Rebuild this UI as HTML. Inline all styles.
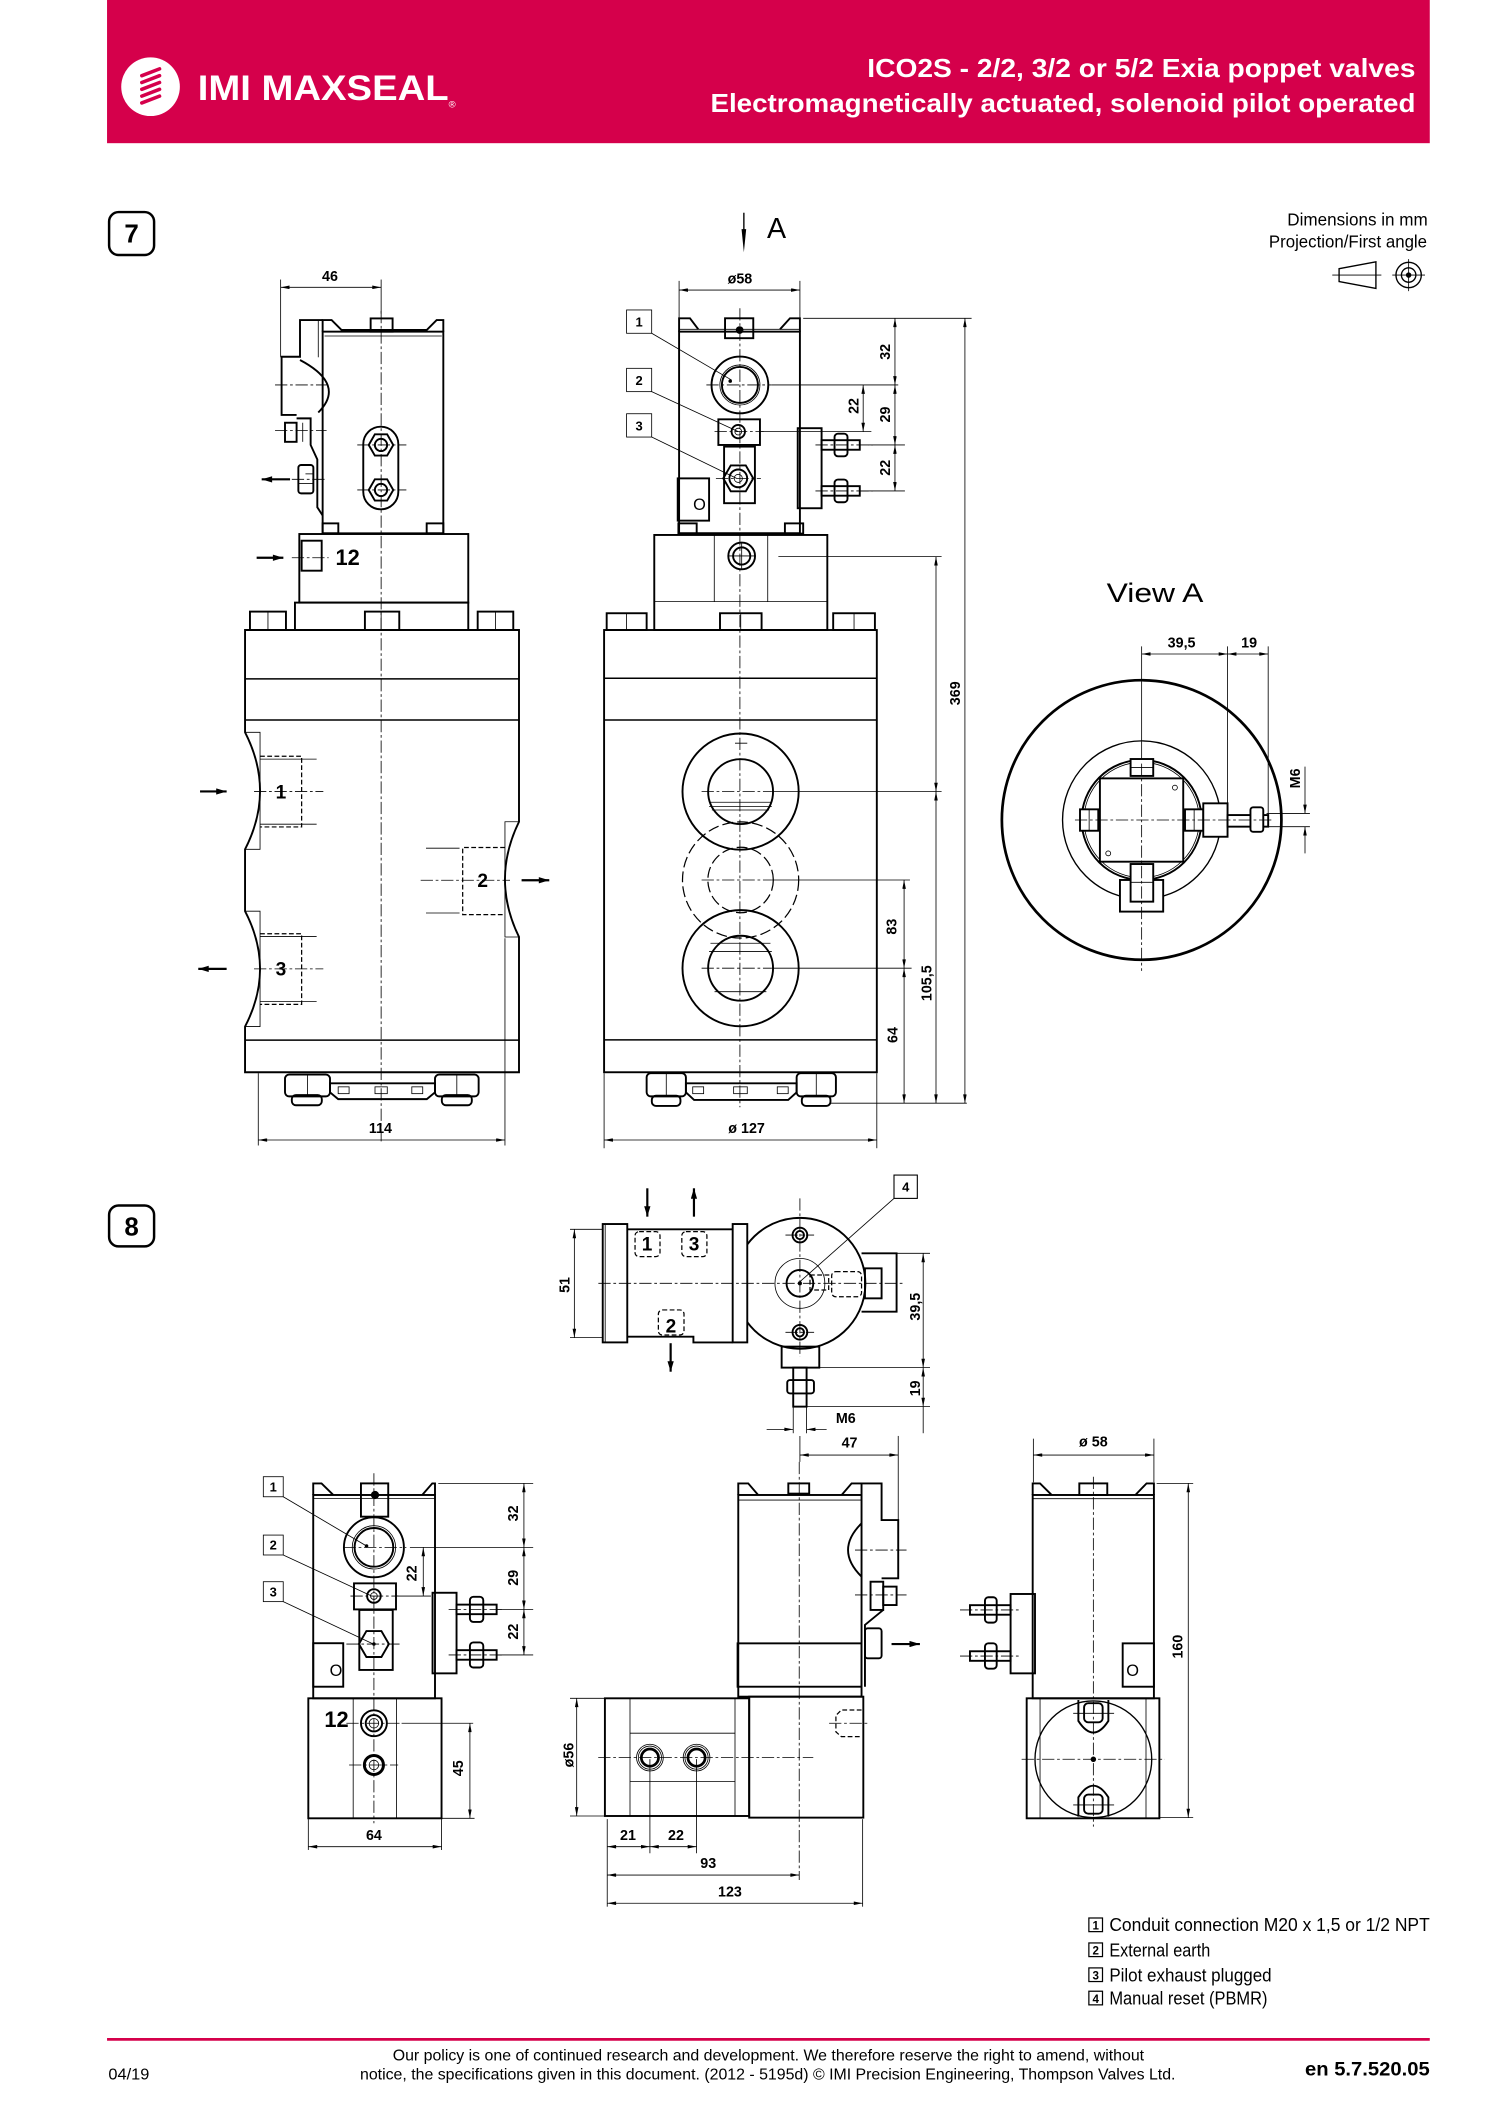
<!DOCTYPE html>
<html><head><meta charset="utf-8"><title>ICO2S</title>
<style>
html,body{margin:0;padding:0;background:#fff;width:1500px;height:2122px;overflow:hidden}
svg{display:block}
text{font-family:"Liberation Sans",Arial,sans-serif;fill:#000}
.k{fill:none;stroke:#000;stroke-width:1.4}
.m{fill:none;stroke:#000;stroke-width:1}
.n{fill:none;stroke:#000;stroke-width:0.6}
.c{fill:none;stroke:#000;stroke-width:0.6;stroke-dasharray:9 2 2 2}
.h{fill:none;stroke:#000;stroke-width:0.9;stroke-dasharray:3.5 1.8}
.d{fill:none;stroke:#000;stroke-width:0.6;marker-start:url(#a);marker-end:url(#a)}
.e{fill:none;stroke:#000;stroke-width:0.6;marker-end:url(#a)}
.fa{fill:none;stroke:#000;stroke-width:1.6;marker-end:url(#f)}
.t{font-size:10.5px;font-weight:bold}
.b{font-size:9.5px;font-weight:bold}
.p{font-size:14px;font-weight:bold}
</style></head><body>
<svg width="1500" height="2122" viewBox="0 0 1100 1556.1" preserveAspectRatio="none" xmlns="http://www.w3.org/2000/svg">
<defs>
<marker id="a" viewBox="0 0 10 4" refX="10" refY="2" markerWidth="7" markerHeight="2.6" markerUnits="userSpaceOnUse" orient="auto-start-reverse"><path d="M0,0L10,2L0,4z" fill="#000"/></marker>
<marker id="f" viewBox="0 0 10 6" refX="10" refY="3" markerWidth="8" markerHeight="4.6" markerUnits="userSpaceOnUse" orient="auto"><path d="M0,0L10,3L0,6z" fill="#000"/></marker>
</defs>

<!-- HEADER -->
<rect x="78.5" y="0" width="970" height="105" fill="#d5004b"/>
<circle cx="110.4" cy="63.6" r="21.5" fill="#fff"/>
<g stroke="#d5004b" stroke-width="2.6" stroke-linecap="round" fill="none">
<path d="M104,55.5L117,50.5"/><path d="M104,60.5L117,55.5"/><path d="M104,65.5L117,60.5"/><path d="M104,70.5L117,65.5"/><path d="M104,75.5L117,70.5"/>
</g>
<text x="145" y="73.3" font-size="25.5" font-weight="bold" style="fill:#fff" textLength="184" lengthAdjust="spacingAndGlyphs">IMI MAXSEAL</text>
<text x="329" y="79" font-size="7" style="fill:#fff">®</text>
<text x="636" y="56.5" font-size="19" font-weight="bold" style="fill:#fff" textLength="402" lengthAdjust="spacingAndGlyphs">ICO2S - 2/2, 3/2 or 5/2 Exia poppet valves</text>
<text x="521" y="82.3" font-size="19" font-weight="bold" style="fill:#fff" textLength="517" lengthAdjust="spacingAndGlyphs">Electromagnetically actuated, solenoid pilot operated</text>

<!-- fig labels -->
<rect x="80" y="155.5" width="33" height="31.5" rx="7" fill="none" stroke="#000" stroke-width="1.8"/>
<text x="96.5" y="178" font-size="19" font-weight="bold" text-anchor="middle">7</text>
<rect x="80" y="884" width="33" height="30" rx="7" fill="none" stroke="#000" stroke-width="1.8"/>
<text x="96.5" y="906" font-size="19" font-weight="bold" text-anchor="middle">8</text>

<!-- View arrow A -->
<line x1="545.5" y1="156" x2="545.5" y2="172" stroke="#000" stroke-width="1"/>
<path d="M543.8,168L545.5,185L547.2,168z" fill="#000"/>
<text x="562.5" y="174.5" font-size="21">A</text>

<text x="944" y="165.5" font-size="13" textLength="103" lengthAdjust="spacingAndGlyphs">Dimensions in mm</text>
<text x="930.5" y="181.5" font-size="13" textLength="116" lengthAdjust="spacingAndGlyphs">Projection/First angle</text>
<path class="m" d="M982,197L1009,192V211.5L982,206.5Z"/>
<line class="n" x1="977" y1="201.7" x2="1013" y2="201.7"/>
<circle class="m" cx="1033" cy="201.7" r="9.3"/><circle class="m" cx="1033" cy="201.7" r="5.3"/><circle cx="1033" cy="201.7" r="2" fill="#000"/>
<line class="n" x1="1021" y1="201.7" x2="1045" y2="201.7"/><line class="n" x1="1033" y1="190" x2="1033" y2="213.5"/>

<!-- ================= FIG 7 LEFT VIEW ================= -->
<line class="c" x1="279.5" y1="228" x2="279.5" y2="838"/>
<line class="n" x1="205.8" y1="205" x2="205.8" y2="262"/>
<line class="n" x1="279.5" y1="205" x2="279.5" y2="230"/>
<line class="d" x1="205.8" y1="210.7" x2="279.5" y2="210.7"/>
<text class="t" x="242" y="206" text-anchor="middle">46</text>
<g class="k">
<rect x="236.6" y="243.2" width="88.5" height="147.9"/>
<path d="M236.6,243.2V234.7H243.2L250.5,242H312.9L320.2,234.7H325.1V243.2"/>
<rect x="271.8" y="233.5" width="16.1" height="9.7"/>
<path d="M236.6,234.7H220V261.6H206.5V304.3H217.5"/>
<path d="M220,264Q254,282 233.4,302.5"/>
<rect x="209" y="310" width="8.5" height="14"/>
<path d="M217.5,306.8H227.8V326.3L232.7,336.9V372L236.6,378"/>
<rect x="218.8" y="341" width="11" height="20.8" rx="2"/>
<rect x="266.4" y="312.9" width="25.7" height="60.6" rx="12.8"/>
<polygon points="270.4,326.3 274.9,318.5 283.9,318.5 288.4,326.3 283.9,334.1 274.9,334.1"/>
<polygon points="270.4,359.3 274.9,351.5 283.9,351.5 288.4,359.3 283.9,367.1 274.9,367.1"/>
<circle cx="279.4" cy="326.3" r="4.5"/><circle cx="279.4" cy="359.3" r="4.5"/>
<rect x="236.6" y="383.8" width="11.5" height="7.3"/><rect x="312.9" y="383.8" width="12.2" height="7.3"/>
<rect x="219.5" y="391.6" width="123.9" height="50.3"/>
<rect x="221.2" y="396.5" width="14.7" height="22"/>
<rect x="216.3" y="441.9" width="127.1" height="20.1"/>
<rect x="183.3" y="448.5" width="26.4" height="13.5"/><rect x="267.6" y="448.5" width="25.2" height="13.5"/><rect x="350.3" y="448.5" width="26.1" height="13.5"/>
<path d="M179.7,462H380.6V602.6Q360,644.8 380.6,687.1V786.3H179.7V752.8Q201.7,710.5 179.7,668.2V622.8Q201.7,580 179.7,537Z"/>
</g>
<g class="n">
<line x1="233.4" y1="234.7" x2="233.4" y2="262"/>
<line x1="222" y1="310" x2="222" y2="324"/>
<line x1="224" y1="347.5" x2="230" y2="347.5"/><line x1="218.8" y1="354.5" x2="229.8" y2="354.5"/>
<line x1="279.5" y1="448.5" x2="279.5" y2="462"/><line x1="196.5" y1="448.5" x2="196.5" y2="462"/><line x1="363.4" y1="448.5" x2="363.4" y2="462"/>
<line x1="238" y1="246.4" x2="324" y2="246.4"/>
<path d="M179.7,537H190.7V622.8H179.7M179.7,668.2H190.7V752.8H179.7M380.6,602.6H370.3V687.1H380.6"/>
<path d="M179.7,497.8H380.6M179.7,528H380.6M179.7,762.7H380.6" stroke-width="1.1"/>
<line x1="190.7" y1="556.7" x2="232.2" y2="556.7"/><line x1="190.7" y1="604.4" x2="232.2" y2="604.4"/>
<line x1="190.7" y1="686.8" x2="232.2" y2="686.8"/><line x1="190.7" y1="734.5" x2="232.2" y2="734.5"/>
<line x1="312.4" y1="622" x2="337" y2="622"/><line x1="312.4" y1="669.5" x2="337" y2="669.5"/>
</g>
<g class="h">
<path d="M190.7,554.6H221.2V606.4H190.7"/>
<path d="M190.7,684.7H221.2V736.5H190.7"/>
<path d="M370.3,621.5H339.3V670.7H370.3"/>
</g>
<g class="c">
<line x1="201.7" y1="282.3" x2="239.5" y2="282.3"/><line x1="201.7" y1="315.8" x2="239.5" y2="315.8"/><line x1="214" y1="351.5" x2="239" y2="351.5"/>
<line x1="262" y1="326.3" x2="298" y2="326.3"/><line x1="262" y1="359.3" x2="298" y2="359.3"/>
<line x1="214" y1="409" x2="241" y2="409"/>
<line x1="186.3" y1="580.4" x2="237.1" y2="580.4"/><line x1="186.3" y1="710.5" x2="237.1" y2="710.5"/><line x1="308.5" y1="645.5" x2="374" y2="645.5"/>
</g>
<line class="fa" x1="212.7" y1="351.5" x2="191.9" y2="351.5"/>
<line class="fa" x1="188.2" y1="409" x2="207.8" y2="409"/>
<line class="fa" x1="146.7" y1="580.4" x2="166.2" y2="580.4"/>
<line class="fa" x1="166.2" y1="710.5" x2="145.4" y2="710.5"/>
<line class="fa" x1="382.5" y1="645.5" x2="402.8" y2="645.5"/>
<text x="246" y="414.5" font-size="16" font-weight="bold">12</text>
<text class="p" x="206" y="585.5" text-anchor="middle">1</text>
<text class="p" x="206" y="715.5" text-anchor="middle">3</text>
<text class="p" x="354" y="650.5" text-anchor="middle">2</text>
<g class="k">
<rect x="209" y="788" width="33" height="16" rx="3"/><rect x="214" y="803" width="22" height="7.5" rx="3"/>
<rect x="319" y="788" width="32" height="16" rx="3"/><rect x="324" y="803" width="22" height="7.5" rx="3"/>
<path d="M242,794.4H319V801L313,806H248L242,801Z"/>
</g>
<g class="n"><line x1="225.5" y1="788" x2="225.5" y2="804"/><line x1="335" y1="788" x2="335" y2="804"/>
<rect x="248" y="797" width="8" height="5"/><rect x="275" y="797" width="9" height="5"/><rect x="302" y="797" width="8" height="5"/></g>
<line class="n" x1="189.4" y1="787" x2="189.4" y2="840"/>
<line class="n" x1="370.3" y1="688" x2="370.3" y2="840"/>
<line class="d" x1="189.4" y1="836" x2="370.3" y2="836"/>
<text class="t" x="279" y="831" text-anchor="middle">114</text>

<!-- ================= FIG 7 MIDDLE VIEW ================= -->
<line class="c" x1="542.6" y1="226" x2="542.6" y2="812"/>
<line class="n" x1="498" y1="206" x2="498" y2="233"/><line class="n" x1="586.6" y1="206" x2="586.6" y2="233"/>
<line class="d" x1="498" y1="212.7" x2="586.6" y2="212.7"/>
<text class="t" x="542.6" y="208" text-anchor="middle">ø58</text>
<g class="k">
<rect x="498" y="243.2" width="88.6" height="147.8"/>
<path d="M498,243.2V233.4H506L512.1,241.5M572,241.5L579.3,233.4H586.6V243.2"/>
<rect x="531.7" y="233.4" width="20.7" height="14.6"/>
<circle cx="542.6" cy="282.3" r="20.8"/><circle cx="542.6" cy="282.3" r="13.2"/>
<rect x="526.8" y="307.5" width="30.5" height="18.8"/>
<circle cx="541.4" cy="316.5" r="4.9"/>
<rect x="531" y="327.5" width="22.6" height="41.5"/>
<polygon points="530.4,350.8 535.9,341.3 546.9,341.3 552.4,350.8 546.9,360.3 535.9,360.3"/>
<circle cx="541.4" cy="350.8" r="6.5"/>
<rect x="497" y="350.8" width="23" height="31"/>
<rect x="585" y="314" width="17.5" height="58.7"/>
<rect x="602.5" y="322.8" width="28" height="7"/><rect x="612" y="318" width="9.5" height="16.6" rx="2.5"/>
<rect x="602.5" y="356.5" width="28" height="7"/><rect x="612" y="351.7" width="9.5" height="16.6" rx="2.5"/>
<rect x="497.5" y="383.8" width="13.4" height="7.5"/><rect x="575.6" y="383.8" width="13.4" height="7.5"/>
<rect x="479.8" y="392.3" width="126.9" height="69.7"/>
<circle cx="543.9" cy="407.7" r="9.8"/><circle cx="543.9" cy="407.7" r="6.3"/>
<rect x="444.9" y="449.7" width="29.3" height="12.3"/><rect x="528" y="449.7" width="30.5" height="12.3"/><rect x="611" y="449.7" width="30.6" height="12.3"/>
<rect x="443" y="462" width="200" height="324.3"/>
<circle cx="543.1" cy="580.5" r="42.6"/><circle cx="543.1" cy="580.5" r="23.8"/>
<circle cx="543.1" cy="710" r="42.6"/><circle cx="543.1" cy="710" r="23.8"/>
</g>
<circle cx="542.4" cy="242" r="2.8" fill="#000"/>
<circle cx="535.5" cy="279.5" r="1.3" fill="#000"/>
<circle class="n" cx="542.6" cy="282.3" r="14.7"/>
<circle class="n" cx="541.4" cy="316.5" r="2.5"/>
<circle class="n" cx="541.4" cy="350.8" r="3"/>
<text x="513" y="374" font-size="12" text-anchor="middle">O</text>
<g class="h">
<circle cx="543.1" cy="645.3" r="42.6" stroke-dasharray="8 3"/><circle cx="543.1" cy="645.3" r="24" stroke-dasharray="8 3"/>
</g>
<g class="n">
<line x1="523.8" y1="392.3" x2="523.8" y2="441.2"/><line x1="563" y1="392.3" x2="563" y2="441.2"/><line x1="479.8" y1="441.2" x2="606.7" y2="441.2"/>
<line x1="498" y1="241.5" x2="586.6" y2="241.5"/>
<line x1="459.5" y1="449.7" x2="459.5" y2="462"/><line x1="543.2" y1="449.7" x2="543.2" y2="462"/><line x1="626.3" y1="449.7" x2="626.3" y2="462"/>
<path d="M443,497.4H643M443,528H643M443,762.6H643" stroke-width="1.1"/>
<path d="M521,588.3H565M520,591.5H566M522,594H564M521,691.7H565M520,697.8H566M524,727.2H562M539,545H548"/>
<line x1="589" y1="233.4" x2="712.5" y2="233.4"/>
<line x1="566" y1="282.3" x2="658.7" y2="282.3"/>
<line x1="557" y1="316.5" x2="639" y2="316.5"/>
<line x1="636.7" y1="326.3" x2="663.6" y2="326.3"/>
<line x1="630" y1="360" x2="663.6" y2="360"/>
<line x1="570.8" y1="408.2" x2="690.5" y2="408.2"/>
<line x1="566" y1="580.5" x2="690.5" y2="580.5"/>
<line x1="566" y1="645.3" x2="667.3" y2="645.3"/>
<line x1="566" y1="710" x2="668.5" y2="710"/>
<line x1="608.6" y1="809" x2="709" y2="809"/>
<line x1="443" y1="787" x2="443" y2="842"/><line x1="643" y1="787" x2="643" y2="842"/>
</g>
<g class="c">
<line x1="518" y1="282.3" x2="566" y2="282.3"/><line x1="524" y1="316.5" x2="560" y2="316.5"/><line x1="525" y1="350.8" x2="558" y2="350.8"/>
<line x1="598" y1="326.3" x2="640" y2="326.3"/><line x1="598" y1="360" x2="640" y2="360"/>
<line x1="514.5" y1="580.5" x2="566" y2="580.5"/><line x1="514.5" y1="645.3" x2="566" y2="645.3"/><line x1="514.5" y1="710" x2="566" y2="710"/>
</g>
<line class="n" x1="534" y1="407.7" x2="554" y2="407.7"/><line class="n" x1="543.9" y1="398" x2="543.9" y2="418"/>
<!-- item labels -->
<g class="n" stroke-width="0.8">
<rect x="459.5" y="227.3" width="18.4" height="17.1"/><rect x="459.5" y="270.1" width="18.4" height="17.1"/><rect x="459.5" y="303.4" width="18.4" height="17.1"/>
<line x1="477.9" y1="244.4" x2="536.5" y2="278.7"/><line x1="477.9" y1="287.2" x2="541.4" y2="316.5"/><line x1="477.9" y1="320.5" x2="540.2" y2="350.8"/>
</g>
<text class="b" x="468.7" y="239.5" text-anchor="middle">1</text>
<text class="b" x="468.7" y="282.3" text-anchor="middle">2</text>
<text class="b" x="468.7" y="315.6" text-anchor="middle">3</text>
<!-- right dims -->
<line class="d" x1="656.3" y1="233.4" x2="656.3" y2="282.3"/>
<line class="d" x1="656.3" y1="282.3" x2="656.3" y2="326.3"/>
<line class="d" x1="656.3" y1="326.3" x2="656.3" y2="360"/>
<line class="d" x1="633" y1="282.3" x2="633" y2="316.5"/>
<text class="t" text-anchor="middle" transform="translate(652.6,258) rotate(-90)">32</text>
<text class="t" text-anchor="middle" transform="translate(629.4,297.7) rotate(-90)">22</text>
<text class="t" text-anchor="middle" transform="translate(652.6,304) rotate(-90)">29</text>
<text class="t" text-anchor="middle" transform="translate(652.6,343) rotate(-90)">22</text>
<line class="d" x1="707.6" y1="233.4" x2="707.6" y2="809"/>
<line class="d" x1="686.4" y1="408.2" x2="686.4" y2="580.5"/>
<line class="d" x1="686.4" y1="580.5" x2="686.4" y2="809"/>
<line class="d" x1="663" y1="645.3" x2="663" y2="710"/>
<line class="d" x1="663" y1="710" x2="663" y2="809"/>
<text class="t" text-anchor="middle" transform="translate(704,508.4) rotate(-90)">369</text>
<text class="t" text-anchor="middle" transform="translate(657.5,679.5) rotate(-90)">83</text>
<text class="t" text-anchor="middle" transform="translate(683.2,721) rotate(-90)">105,5</text>
<text class="t" text-anchor="middle" transform="translate(658,759) rotate(-90)">64</text>
<g class="k">
<rect x="474.2" y="787" width="28.8" height="17" rx="3"/><rect x="478" y="803.5" width="21" height="7.5" rx="3"/>
<rect x="584.2" y="787" width="28.8" height="17" rx="3"/><rect x="588" y="803.5" width="21" height="7.5" rx="3"/>
<path d="M503,794.4H584.2V801L578,806.6H509L503,801Z"/>
</g>
<g class="n"><line x1="488.6" y1="787" x2="488.6" y2="804"/><line x1="598.6" y1="787" x2="598.6" y2="804"/>
<rect x="508" y="797" width="8" height="5"/><rect x="538" y="797" width="10" height="5"/><rect x="570" y="797" width="8" height="5"/></g>
<line class="d" x1="443" y1="836" x2="643" y2="836"/>
<text class="t" x="547.5" y="831" text-anchor="middle">ø 127</text>

<!-- ================= VIEW A ================= -->
<text x="811.5" y="441.3" font-size="19.5" textLength="71" lengthAdjust="spacingAndGlyphs">View  A</text>
<line class="n" x1="837.2" y1="474" x2="837.2" y2="560"/>
<line class="n" x1="900.2" y1="474" x2="900.2" y2="589"/>
<line class="n" x1="930" y1="474" x2="930" y2="604"/>
<line class="d" x1="837.2" y1="479.6" x2="900.2" y2="479.6"/>
<line class="d" x1="900.2" y1="479.6" x2="930" y2="479.6"/>
<text class="t" x="866.5" y="474.7" text-anchor="middle">39,5</text>
<text class="t" x="916" y="474.7" text-anchor="middle">19</text>
<circle cx="837.2" cy="601.3" r="102.5" fill="none" stroke="#000" stroke-width="2"/>
<circle class="m" cx="837.2" cy="601.3" r="58"/>
<circle class="k" cx="837.2" cy="601.3" r="44"/>
<circle class="n" cx="837.2" cy="601.3" r="42.3"/>
<g class="k" style="fill:#fff">
<rect x="806.6" y="570.8" width="61.1" height="61.1"/>
<rect x="829.1" y="556.6" width="16.6" height="12.4"/>
<rect x="792" y="593.5" width="13.4" height="15.7"/>
<rect x="869" y="593.5" width="13.4" height="15.7"/>
<rect x="821.3" y="645.3" width="31.7" height="23.2"/>
<rect x="829.1" y="633.6" width="16.6" height="27.6"/>
<rect x="882.4" y="589.1" width="17.8" height="24.5"/>
<rect x="900.2" y="597.7" width="29.8" height="8.5"/>
<rect x="917" y="592" width="9.4" height="18" rx="2"/>
</g>
<g class="n"><line x1="829.1" y1="562.8" x2="845.7" y2="562.8"/><line x1="829.1" y1="647" x2="845.7" y2="647"/>
<line x1="798.7" y1="593.5" x2="798.7" y2="609.2"/><line x1="875.7" y1="593.5" x2="875.7" y2="609.2"/></g>
<circle class="n" cx="861.6" cy="577.6" r="1.8"/><circle class="n" cx="812.7" cy="625.8" r="1.8"/>
<line class="c" x1="837.2" y1="560" x2="837.2" y2="712"/>
<line class="c" x1="788.3" y1="601.3" x2="933.7" y2="601.3"/>
<line class="n" x1="928.8" y1="596.5" x2="960.6" y2="596.5"/><line class="n" x1="928.8" y1="606.2" x2="960.6" y2="606.2"/>
<line class="e" x1="957" y1="562.2" x2="957" y2="596.5"/>
<line class="e" x1="957" y1="625.8" x2="957" y2="606.2"/>
<text class="t" text-anchor="middle" transform="translate(953.3,570.8) rotate(-90)">M6</text>

<!-- ================= FIG 8 TOP ================= -->
<g class="k">
<rect x="442" y="897.6" width="18" height="86.8"/>
<path d="M460,901.5H537.3M460,980.2H508.5V984.4H537.3"/>
<rect x="537.3" y="897.6" width="10.7" height="86.8"/>
<path d="M548,912.6A48,48 0 1,1 548,969.6"/>
<circle cx="586.6" cy="941.1" r="9.8"/>
<circle cx="586.6" cy="905.7" r="5.4"/><circle cx="586.6" cy="905.7" r="3"/>
<circle cx="586.6" cy="977" r="5.4"/><circle cx="586.6" cy="977" r="3"/>
<path d="M631.8,919.1H657.5V961.9H631.8"/>
<rect x="634.3" y="930.1" width="12.2" height="22"/>
<rect x="573.2" y="987.5" width="27.6" height="15.4"/>
<rect x="581.7" y="1002.9" width="9.8" height="28.6"/>
<rect x="577.3" y="1012" width="19.6" height="9.8" rx="2"/>
</g>
<line class="n" x1="443.8" y1="897.6" x2="443.8" y2="984.4"/>
<circle class="n" cx="586.6" cy="941.1" r="18.3"/>
<circle cx="586.6" cy="941.1" r="1.5" fill="#000"/>
<g class="h">
<rect x="465.7" y="903.2" width="18.3" height="18.3" rx="3"/>
<rect x="500" y="903.2" width="18.4" height="18.3" rx="3"/>
<rect x="482.8" y="960.6" width="18.8" height="18.4" rx="3"/>
<rect x="594" y="935" width="13.7" height="11"/>
<rect x="609.9" y="932.5" width="21.9" height="18.4" rx="3"/>
</g>
<text class="p" x="474.5" y="917" text-anchor="middle">1</text>
<text class="p" x="509" y="917" text-anchor="middle">3</text>
<text class="p" x="492" y="977" text-anchor="middle">2</text>
<line class="fa" x1="474.7" y1="871.4" x2="474.7" y2="892.2"/>
<line class="fa" x1="508.9" y1="892.2" x2="508.9" y2="871.4"/>
<line class="fa" x1="491.8" y1="985" x2="491.8" y2="1005.9"/>
<g class="c">
<line x1="438.8" y1="941.1" x2="663.6" y2="941.1"/>
<line x1="586.6" y1="878.8" x2="586.6" y2="994.9"/>
<line x1="576" y1="905.7" x2="597" y2="905.7"/><line x1="576" y1="977" x2="597" y2="977"/>
</g>
<line class="n" x1="418" y1="901.5" x2="442" y2="901.5"/><line class="n" x1="418" y1="980.9" x2="442" y2="980.9"/>
<line class="d" x1="421.2" y1="901.5" x2="421.2" y2="980.9"/>
<text class="t" text-anchor="middle" transform="translate(417.5,942.3) rotate(-90)">51</text>
<rect x="655.6" y="861.7" width="17.1" height="17.1" fill="none" stroke="#000" stroke-width="0.8"/>
<text class="b" x="664.2" y="873.9" text-anchor="middle">4</text>
<line class="n" x1="655.6" y1="878.8" x2="586.6" y2="939.9"/>
<line class="n" x1="657.5" y1="919.1" x2="682" y2="919.1"/>
<line class="n" x1="600.8" y1="1002.9" x2="682" y2="1002.9"/>
<line class="n" x1="591.5" y1="1031.5" x2="682" y2="1031.5"/>
<line class="d" x1="677" y1="919.1" x2="677" y2="1002.9"/>
<line class="d" x1="677" y1="1002.9" x2="677" y2="1031.5"/>
<line class="n" x1="677" y1="1031.5" x2="677" y2="1051"/>
<text class="t" text-anchor="middle" transform="translate(674.6,958.2) rotate(-90)">39,5</text>
<text class="t" text-anchor="middle" transform="translate(674.6,1018.1) rotate(-90)">19</text>
<line class="n" x1="581.7" y1="1031.5" x2="581.7" y2="1051"/><line class="n" x1="591.5" y1="1031.5" x2="591.5" y2="1051"/>
<line class="e" x1="562.2" y1="1048.2" x2="581.7" y2="1048.2"/>
<line class="e" x1="606.2" y1="1048.2" x2="591.5" y2="1048.2"/>
<text class="t" x="613" y="1043.7">M6</text>
<line class="n" x1="586.6" y1="1053" x2="586.6" y2="1072"/>
<line class="n" x1="658.7" y1="1053" x2="658.7" y2="1114.7"/>
<line class="d" x1="586.6" y1="1067" x2="658.7" y2="1067"/>
<text class="t" x="623" y="1061.5" text-anchor="middle">47</text>

<!-- ================= FIG 8 BOTTOM LEFT ================= -->
<line class="c" x1="274.2" y1="1080.4" x2="274.2" y2="1337"/>
<g class="k">
<rect x="229.7" y="1096.3" width="89.3" height="149.1"/>
<path d="M229.7,1096.3V1087.8H235.8L244.4,1096.3M309.6,1096.3L317,1087.8H319V1096.3"/>
<rect x="264.7" y="1087.8" width="20" height="24.4"/>
<circle cx="274.2" cy="1134.7" r="22"/><circle cx="274.2" cy="1134.7" r="14.2"/>
<rect x="259.6" y="1161.1" width="30.8" height="19.1"/>
<circle cx="274.2" cy="1170.4" r="5"/>
<rect x="263.5" y="1180.6" width="24.5" height="44"/>
<polygon points="263.2,1205.6 268.7,1196.1 279.7,1196.1 285.2,1205.6 279.7,1215.1 268.7,1215.1"/>
<rect x="229.7" y="1205" width="22" height="31.9"/>
<rect x="317.2" y="1168" width="17.6" height="59.1"/>
<rect x="334.8" y="1176.7" width="29.4" height="7"/><rect x="344.6" y="1171" width="9.8" height="18.4" rx="2.5"/>
<rect x="334.8" y="1210.1" width="29.4" height="7"/><rect x="344.6" y="1204.4" width="9.8" height="18.4" rx="2.5"/>
<rect x="226.1" y="1245.4" width="97.7" height="88"/>
<circle cx="274.2" cy="1263.7" r="9.5"/><circle cx="274.2" cy="1263.7" r="6"/>
<circle cx="274.2" cy="1294.3" r="7" stroke-width="2.2"/>
</g>
<circle cx="275" cy="1096.3" r="3" fill="#000"/>
<circle cx="268.8" cy="1133.7" r="1.3" fill="#000"/>
<circle cx="274.2" cy="1205.6" r="1.3" fill="#000"/>
<circle class="n" cx="274.2" cy="1134.7" r="15.9"/>
<circle class="n" cx="274.2" cy="1170.4" r="2.5"/>
<circle class="n" cx="274.2" cy="1263.7" r="3.5"/>
<circle class="n" cx="274.2" cy="1294.3" r="3.5"/>
<text x="246.4" y="1229" font-size="12" text-anchor="middle">O</text>
<g class="n">
<line x1="229.7" y1="1098.8" x2="319" y2="1098.8"/>
<line x1="259" y1="1245.4" x2="259" y2="1333.4"/><line x1="290.8" y1="1245.4" x2="290.8" y2="1333.4"/>
<line x1="300.6" y1="1134.7" x2="391" y2="1134.7"/>
<line x1="290" y1="1170.4" x2="316" y2="1170.4"/>
<line x1="321.4" y1="1087.8" x2="391" y2="1087.8"/>
<line x1="364" y1="1180.2" x2="391" y2="1180.2"/>
<line x1="364" y1="1213.6" x2="391" y2="1213.6"/>
<line x1="294.5" y1="1263.7" x2="347" y2="1263.7"/>
<line x1="323.8" y1="1333.4" x2="348" y2="1333.4"/>
<line x1="226.1" y1="1334" x2="226.1" y2="1356.6"/><line x1="323.8" y1="1334" x2="323.8" y2="1356.6"/>
</g>
<g class="c">
<line x1="252" y1="1134.7" x2="298" y2="1134.7"/><line x1="257" y1="1170.4" x2="292" y2="1170.4"/><line x1="254" y1="1205.6" x2="294" y2="1205.6"/>
<line x1="254" y1="1263.7" x2="294" y2="1263.7"/><line x1="256" y1="1294.3" x2="292" y2="1294.3"/>
<line x1="329" y1="1180.2" x2="370" y2="1180.2"/><line x1="329" y1="1213.6" x2="370" y2="1213.6"/>
</g>
<text x="246.8" y="1266.5" font-size="16" font-weight="bold" text-anchor="middle">12</text>
<g class="n" stroke-width="0.8">
<rect x="193.1" y="1082.9" width="14.6" height="14.7"/><rect x="193.1" y="1125.7" width="14.6" height="14.6"/><rect x="193.1" y="1159.9" width="14.6" height="14.6"/>
<line x1="207.7" y1="1097.6" x2="268.8" y2="1133.7"/><line x1="207.7" y1="1140.3" x2="272.5" y2="1170.4"/><line x1="207.7" y1="1174.5" x2="273.7" y2="1205.6"/>
</g>
<text class="b" x="200.4" y="1093.7" text-anchor="middle">1</text>
<text class="b" x="200.4" y="1136.4" text-anchor="middle">2</text>
<text class="b" x="200.4" y="1170.6" text-anchor="middle">3</text>
<line class="d" x1="384.2" y1="1087.8" x2="384.2" y2="1134.7"/>
<line class="d" x1="384.2" y1="1134.7" x2="384.2" y2="1180.2"/>
<line class="d" x1="384.2" y1="1180.2" x2="384.2" y2="1213.6"/>
<line class="d" x1="310.4" y1="1134.7" x2="310.4" y2="1170.4"/>
<text class="t" text-anchor="middle" transform="translate(380,1109.8) rotate(-90)">32</text>
<text class="t" text-anchor="middle" transform="translate(305.5,1153.8) rotate(-90)">22</text>
<text class="t" text-anchor="middle" transform="translate(380,1157) rotate(-90)">29</text>
<text class="t" text-anchor="middle" transform="translate(380,1196.5) rotate(-90)">22</text>
<line class="d" x1="344.6" y1="1263.7" x2="344.6" y2="1333.4"/>
<text class="t" text-anchor="middle" transform="translate(339.7,1296.7) rotate(-90)">45</text>
<line class="d" x1="226.1" y1="1354.2" x2="323.8" y2="1354.2"/>
<text class="t" x="274.2" y="1349.3" text-anchor="middle">64</text>

<!-- ================= FIG 8 BOTTOM MIDDLE ================= -->
<line class="c" x1="586.1" y1="1072" x2="586.1" y2="1378.6"/>
<g class="k">
<rect x="541.4" y="1096.3" width="90.4" height="147.9"/>
<path d="M541.4,1096.3V1087.8H548.7L556,1096.3M617.2,1096.3L624.5,1087.8H631.8V1096.3"/>
<rect x="578.1" y="1087.8" width="15.3" height="7.5"/>
<rect x="540.9" y="1205.1" width="90.9" height="31.8"/>
<path d="M631.8,1087.8H646.5V1114.7H658.7V1157.4H646.5"/>
<path d="M631.8,1117.1Q612,1136.7 631.8,1156.2"/>
<rect x="638.4" y="1159.9" width="9.3" height="20.7"/>
<rect x="647.7" y="1163.5" width="9.8" height="13.5"/>
<path d="M647.7,1180.6L634.3,1191.6V1236.9"/>
<rect x="634.3" y="1194.1" width="12.2" height="22" rx="2"/>
<rect x="549.4" y="1244.2" width="83.7" height="88.7"/>
<rect x="443.6" y="1245.4" width="105.8" height="86.3"/>
<circle cx="476.6" cy="1288.9" r="6.3" stroke-width="2"/>
<circle cx="510.8" cy="1288.9" r="6.3" stroke-width="2"/>
</g>
<g class="n">
<line x1="541.4" y1="1100" x2="631.8" y2="1100"/>
<line x1="462" y1="1245.4" x2="462" y2="1331.7"/><line x1="539" y1="1245.4" x2="539" y2="1331.7"/>
<line x1="462" y1="1271" x2="539" y2="1271"/><line x1="462" y1="1306.5" x2="539" y2="1306.5"/>
<circle cx="476.6" cy="1288.9" r="9.8"/><circle cx="476.6" cy="1288.9" r="8.5"/>
<circle cx="510.8" cy="1288.9" r="9.8"/><circle cx="510.8" cy="1288.9" r="8.5"/>
<line x1="418" y1="1245.4" x2="443.6" y2="1245.4"/><line x1="418" y1="1331.7" x2="443.6" y2="1331.7"/>
<line x1="445.3" y1="1334" x2="445.3" y2="1398.2"/>
<line x1="476.6" y1="1290" x2="476.6" y2="1359"/><line x1="510.8" y1="1290" x2="510.8" y2="1359"/>
<line x1="632.6" y1="1334" x2="632.6" y2="1398.2"/>
</g>
<path class="h" d="M631.8,1254H617L613,1258V1270L617,1273.5H631.8"/>
<g class="c">
<line x1="608" y1="1263.7" x2="636" y2="1263.7"/>
<line x1="438.7" y1="1288.9" x2="596.4" y2="1288.9"/>
<line x1="627" y1="1136.7" x2="664.8" y2="1136.7"/><line x1="627" y1="1169.6" x2="664.8" y2="1169.6"/>
</g>
<line class="fa" x1="653.8" y1="1205.6" x2="674.6" y2="1205.6"/>
<line class="d" x1="422.9" y1="1245.4" x2="422.9" y2="1331.7"/>
<text class="t" text-anchor="middle" transform="translate(420.4,1287) rotate(-90)">ø56</text>
<line class="d" x1="445.3" y1="1354.2" x2="476.6" y2="1354.2"/>
<line class="d" x1="476.6" y1="1354.2" x2="510.8" y2="1354.2"/>
<text class="t" x="460.5" y="1349.3" text-anchor="middle">21</text>
<text class="t" x="495.7" y="1349.3" text-anchor="middle">22</text>
<line class="d" x1="445.3" y1="1375" x2="586.1" y2="1375"/>
<text class="t" x="519.4" y="1370" text-anchor="middle">93</text>
<line class="d" x1="445.3" y1="1395.7" x2="632.6" y2="1395.7"/>
<text class="t" x="535.3" y="1390.8" text-anchor="middle">123</text>

<!-- ================= FIG 8 BOTTOM RIGHT ================= -->
<line class="c" x1="801.8" y1="1082.9" x2="801.8" y2="1339.5"/>
<line class="n" x1="757.8" y1="1055" x2="757.8" y2="1087"/><line class="n" x1="846.2" y1="1055" x2="846.2" y2="1087"/>
<line class="d" x1="757.8" y1="1067" x2="846.2" y2="1067"/>
<text class="t" x="801.8" y="1060.9" text-anchor="middle">ø 58</text>
<g class="k">
<rect x="757.3" y="1096.3" width="88.9" height="149.1"/>
<path d="M757.3,1096.3V1087.8H762.7L771.2,1096.3M832.6,1096.3L840.8,1087.8H846.2V1096.3"/>
<rect x="791.5" y="1087.8" width="20.5" height="8.5"/>
<rect x="741.1" y="1168.9" width="17.9" height="58.2"/>
<rect x="711.3" y="1177.1" width="29.8" height="7"/><rect x="722.3" y="1171.3" width="8.6" height="18.6" rx="2.5"/>
<rect x="711.3" y="1210.9" width="29.8" height="7"/><rect x="722.3" y="1205.1" width="8.6" height="18.6" rx="2.5"/>
<rect x="823.3" y="1205.1" width="22.9" height="31.8"/>
<rect x="752.9" y="1245.4" width="97.3" height="88"/>
<path d="M790.8,1246.6V1262Q801.8,1279 812.8,1262V1246.6"/>
<path d="M790.8,1332.2V1318Q801.8,1301 812.8,1318V1332.2"/>
<rect x="795" y="1249" width="13.6" height="14" rx="3"/>
<rect x="795" y="1316" width="13.6" height="14" rx="3"/>
</g>
<circle class="m" cx="801.8" cy="1290.1" r="42.8"/>
<circle cx="801.8" cy="1290.1" r="2" fill="#000"/>
<text x="830.6" y="1229" font-size="12" text-anchor="middle">O</text>
<g class="n">
<line x1="757.3" y1="1099" x2="846.2" y2="1099"/>
<line x1="762.7" y1="1245.4" x2="762.7" y2="1333.4"/><line x1="840.4" y1="1245.4" x2="840.4" y2="1333.4"/>
<line x1="787" y1="1256.4" x2="817" y2="1256.4"/><line x1="787" y1="1323.6" x2="817" y2="1323.6"/>
<line x1="848.2" y1="1087.8" x2="875" y2="1087.8"/><line x1="850" y1="1332.9" x2="875" y2="1332.9"/>
</g>
<g class="c">
<line x1="749.2" y1="1290.1" x2="854.3" y2="1290.1"/>
<line x1="704" y1="1180.6" x2="748" y2="1180.6"/><line x1="704" y1="1214.4" x2="748" y2="1214.4"/>
</g>
<line class="d" x1="871.4" y1="1087.8" x2="871.4" y2="1332.9"/>
<text class="t" text-anchor="middle" transform="translate(867.3,1207.5) rotate(-90)">160</text>

<!-- ================= LEGEND ================= -->
<g fill="none" stroke="#000" stroke-width="0.9">
<rect x="798.5" y="1406.5" width="10" height="10"/><rect x="798.5" y="1424.8" width="10" height="10"/>
<rect x="798.5" y="1443.1" width="10" height="10"/><rect x="798.5" y="1460.2" width="10" height="10"/>
</g>
<text x="803.5" y="1415" font-size="8.5" font-weight="bold" text-anchor="middle">1</text>
<text x="803.5" y="1433.3" font-size="8.5" font-weight="bold" text-anchor="middle">2</text>
<text x="803.5" y="1451.6" font-size="8.5" font-weight="bold" text-anchor="middle">3</text>
<text x="803.5" y="1468.7" font-size="8.5" font-weight="bold" text-anchor="middle">4</text>
<text x="813.5" y="1416.2" font-size="13.5" textLength="235" lengthAdjust="spacingAndGlyphs">Conduit connection M20 x 1,5 or 1/2 NPT</text>
<text x="813.5" y="1434.6" font-size="13.5" textLength="74" lengthAdjust="spacingAndGlyphs">External earth</text>
<text x="813.5" y="1452.9" font-size="13.5" textLength="119" lengthAdjust="spacingAndGlyphs">Pilot exhaust plugged</text>
<text x="813.5" y="1470" font-size="13.5" textLength="116" lengthAdjust="spacingAndGlyphs">Manual reset (PBMR)</text>

<!-- ================= FOOTER ================= -->
<line x1="78.5" y1="1495.5" x2="1048.5" y2="1495.5" stroke="#d5004b" stroke-width="2"/>
<text x="288" y="1511" font-size="11.5" textLength="551" lengthAdjust="spacingAndGlyphs">Our policy is one of continued research and development. We therefore reserve the right to amend, without</text>
<text x="264" y="1525" font-size="11.5" textLength="598" lengthAdjust="spacingAndGlyphs">notice, the specifications given in this document. (2012 - 5195d) © IMI Precision Engineering, Thompson Valves Ltd.</text>
<text x="79.5" y="1525" font-size="11.5" textLength="30" lengthAdjust="spacingAndGlyphs">04/19</text>
<text x="957" y="1522" font-size="14" font-weight="bold" textLength="91.5" lengthAdjust="spacingAndGlyphs">en 5.7.520.05</text>
</svg>
</body></html>
